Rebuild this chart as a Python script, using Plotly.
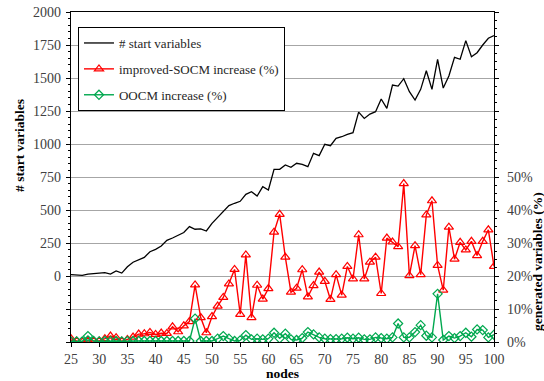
import plotly.graph_objects as go

nodes = list(range(25, 101))

start_vars = [
    10, 10, 5, 15, 20, 22, 25, 15, 38, 22,
    70, 104, 121, 141, 184, 202, 227, 270, 288, 306,
    329, 374, 354, 357, 341, 399, 442, 485, 533, 551,
    566, 619, 639, 606, 677, 652, 808, 808, 841, 824,
    854, 846, 828, 929, 912, 998, 987, 1043, 1055, 1073,
    1086, 1242, 1194, 1227, 1245, 1341, 1270, 1447, 1439, 1495,
    1396, 1333, 1414, 1555, 1414, 1642, 1424, 1515, 1657, 1642,
    1783, 1661, 1692, 1750, 1801, 1821,
]

socm_pct = [
    1.0, 0.3, 0.0, 0.3, 0.3, 0.3, 1.0, 1.8, 1.3, 0.2,
    0.8, 1.5, 2.4, 2.5, 2.9, 2.3, 2.7, 2.6, 4.6, 3.1,
    4.9, 6.2, 17.3, 7.4, 2.8, 7.7, 10.9, 13.5, 17.6, 22.0,
    8.4, 26.4, 7.4, 17.2, 13.0, 16.2, 33.3, 38.7, 25.7, 15.1,
    16.3, 21.9, 13.7, 17.1, 21.2, 18.4, 12.9, 20.4, 14.2, 22.9,
    19.1, 32.5, 19.1, 24.2, 25.7, 14.7, 31.5, 30.3, 28.9, 48.0,
    20.1, 29.2, 20.4, 38.5, 42.8, 23.2, 15.7, 34.8, 25.1, 30.2,
    27.9, 30.5, 26.2, 30.5, 34.0, 22.9,
]

oocm_pct = [
    0.2, 0.2, 0.2, 1.8, 0.3, 0.2, 0.3, 0.3, 0.3, 0.2,
    0.3, 0.3, 0.3, 0.3, 0.3, 0.3, 0.3, 0.3, 0.3, 0.3,
    0.3, 0.3, 7.1, 0.3, 0.3, 0.3, 1.0, 1.8, 1.0, 0.3,
    0.5, 2.1, 0.8, 1.0, 0.8, 1.0, 2.8, 1.1, 2.5, 0.8,
    0.6, 1.2, 3.0, 2.3, 1.4, 1.0, 0.9, 0.9, 1.0, 1.3,
    1.0, 1.3, 0.8, 0.8, 1.4, 1.2, 1.0, 1.4, 5.6, 1.4,
    1.4, 3.0, 5.1, 1.9, 1.4, 14.6, 0.6, 1.8, 1.2, 1.8,
    2.8, 1.6, 3.8, 3.6, 1.4, 2.2,
]

x_ticks = list(range(25, 101, 5))
left_ticks = list(range(-500, 2001, 250))
left_labels = [str(v) if v >= 0 else "" for v in left_ticks]
right_ticks = [i / 10 for i in range(0, 11)]
right_labels = [f"{int(round(v * 100))}%" if v <= 0.5 + 1e-9 else "" for v in right_ticks]

FONT = "Liberation Serif"
TICKCOL = "#404040"
GRID = "#a6a6a6"

fig = go.Figure()
fig.add_trace(go.Scatter(
    x=nodes, y=start_vars, name="# start variables", mode="lines",
    line=dict(color="black", width=1.3), yaxis="y", legendgroup="a"))
fig.add_trace(go.Scatter(
    x=nodes, y=[v / 100 for v in socm_pct], name="improved-SOCM increase (%)",
    mode="lines+markers", line=dict(color="#ff0000", width=1.4),
    marker=dict(symbol="triangle-up-open", size=8, color="#ff0000", line=dict(width=1.2)),
    yaxis="y2", legendgroup="b"))
fig.add_trace(go.Scatter(
    x=nodes, y=[v / 100 for v in oocm_pct], name="OOCM increase (%)",
    mode="lines+markers", line=dict(color="#00a84f", width=1.4),
    marker=dict(symbol="diamond-open", size=7, color="#00a84f", line=dict(width=1.2)),
    yaxis="y2", legendgroup="c"))

fig.update_layout(
    width=544, height=381,
    margin=dict(l=71, r=50, t=12, b=39, autoexpand=False),
    paper_bgcolor="white", plot_bgcolor="white",
    font=dict(family=FONT, size=14, color=TICKCOL),
    showlegend=True,
    legend=dict(
        x=0.0165, y=0.9545, xanchor="left", yanchor="top",
        bgcolor="white", bordercolor="black", borderwidth=1,
        font=dict(family=FONT, size=13, color="#262626"),
        traceorder="grouped", tracegroupgap=6,
    ),
    xaxis=dict(
        range=[25, 100], tickmode="array", tickvals=x_ticks, automargin=False,
        showgrid=False, zeroline=False,
        showline=True, linecolor="black", linewidth=1.3, mirror=True,
        ticks="outside", ticklen=4, tickcolor="black",
        tickfont=dict(family=FONT, size=14, color=TICKCOL),
    ),
    yaxis=dict(
        range=[-500, 2000], tickmode="array", tickvals=left_ticks, ticktext=left_labels,
        automargin=False,
        showgrid=True, gridcolor=GRID, gridwidth=1, zeroline=False,
        showline=True, linecolor="black", linewidth=1.3,
        ticks="outside", ticklen=4, tickcolor="black", ticklabelstandoff=2,
        minor=dict(tickmode="linear", tick0=0, dtick=50, ticks="outside", ticklen=2, tickcolor="black", showgrid=False),
        tickfont=dict(family=FONT, size=14, color=TICKCOL),
    ),
    yaxis2=dict(
        range=[0, 1], overlaying="y", side="right", automargin=False,
        tickmode="array", tickvals=right_ticks, ticktext=right_labels,
        showgrid=False, zeroline=False,
        showline=True, linecolor="black", linewidth=1.3,
        ticks="outside", ticklen=4, tickcolor="black", ticklabelstandoff=5,
        minor=dict(tickmode="linear", tick0=0, dtick=0.025, ticks="outside", ticklen=2, tickcolor="black", showgrid=False),
        tickfont=dict(family=FONT, size=14, color=TICKCOL),
    ),
    yaxis3=dict(
        range=[-500, 2000], overlaying="y", side="left", anchor="x", automargin=False,
        tickmode="array", tickvals=left_ticks, showticklabels=False,
        showgrid=False, zeroline=False, showline=False,
        ticks="inside", ticklen=3, tickcolor="black",
        minor=dict(tickmode="linear", tick0=0, dtick=50, ticks="inside", ticklen=2, tickcolor="black", showgrid=False),
    ),
    yaxis4=dict(
        range=[0, 1], overlaying="y", side="right", anchor="x", automargin=False,
        tickmode="array", tickvals=right_ticks, showticklabels=False,
        showgrid=False, zeroline=False, showline=False,
        ticks="inside", ticklen=3, tickcolor="black",
        minor=dict(tickmode="linear", tick0=0, dtick=0.025, ticks="inside", ticklen=2, tickcolor="black", showgrid=False),
    ),
    annotations=[
        dict(text="<b># start variables</b>", xref="paper", yref="paper",
             x=-0.1206, y=0.597, xanchor="center", yanchor="middle",
             textangle=-90, showarrow=False,
             font=dict(family=FONT, size=13.5, color="black")),
        dict(text="<b>generated variables (%)</b>", xref="paper", yref="paper",
             x=1.1017, y=0.2424, xanchor="center", yanchor="middle",
             textangle=-90, showarrow=False,
             font=dict(family=FONT, size=13.5, color="black")),
        dict(text="<b>nodes</b>", xref="paper", yref="paper",
             x=0.5, y=-0.094, xanchor="center", yanchor="middle", showarrow=False,
             font=dict(family=FONT, size=13.5, color="black")),
    ],
)

fig.write_html("out.html")
